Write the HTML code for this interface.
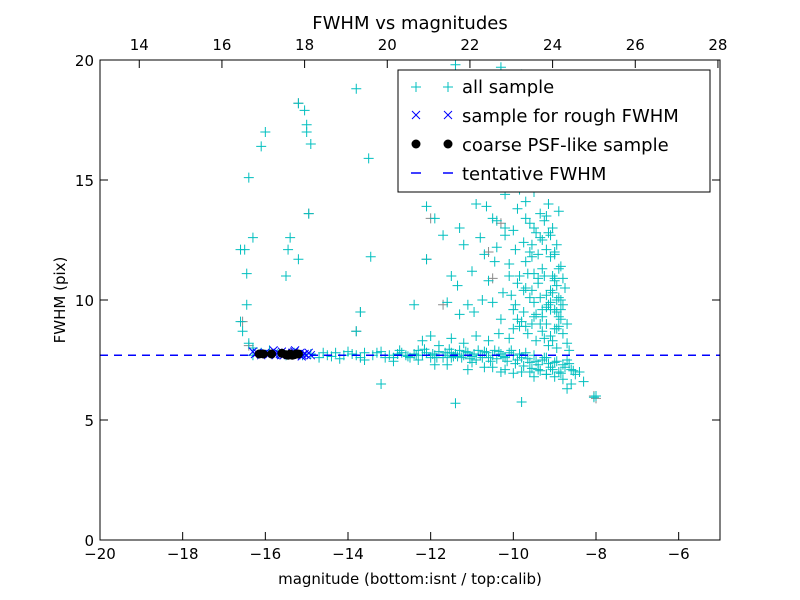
<!DOCTYPE html>
<html><head><meta charset="utf-8"><style>
body{margin:0;background:#fff;}
svg{display:block;font-family:"DejaVu Sans","Liberation Sans",sans-serif;}
</style></head><body>
<svg id="chart" width="800" height="600">
<rect width="800" height="600" fill="#fff"/>
<g id="marks"></g>
<rect x="100" y="60" width="620" height="480" fill="none" stroke="#000" stroke-width="1"/>
<g id="axes"></g>
<text x="410" y="29" font-size="18" text-anchor="middle">FWHM vs magnitudes</text>
<text x="410" y="584" font-size="15" text-anchor="middle">magnitude (bottom:isnt / top:calib)</text>
<text x="65" y="300" font-size="15" text-anchor="middle" transform="rotate(-90 65 300)">FWHM (pix)</text>
<g>
<rect x="398" y="70" width="312" height="122" fill="#fff" stroke="#000"/>
<g>
<path d="M411 87h10M416 82v10M443 87h10M448 82v10" stroke="#00bfbf"/>
<text x="462" y="93" font-size="18">all sample</text></g>
<g>
<path d="M412 111l8 8M412 119l8-8M444 111l8 8M444 119l8-8" stroke="#0000ff"/>
<text x="462" y="122" font-size="18">sample for rough FWHM</text></g>
<g>
<circle cx="416" cy="144" r="4.5"/><circle cx="448" cy="144" r="4.5"/>
<text x="462" y="151" font-size="18">coarse PSF-like sample</text></g>
<g>
<path d="M411 173h10M443 173h10" stroke="#0000ff" stroke-width="1.5"/>
<text x="462" y="180" font-size="18">tentative FWHM</text></g>
</g>
</svg>
<script>
const magAll=[-16.3,-16.1,-15.9,-15.7,-15.5,-15.3,-15.1,-14.9,-14.7,-14.5,-14.3,-14.1,-13.9,-13.7,-13.6,-13.4,-13.2,-13.0,-12.9,-12.8,-12.7,-12.6,-12.5,-12.4,-12.3,-12.2,-12.1,-12.0,-11.95,-11.9,-11.8,-11.7,-11.6,-11.5,-11.45,-11.4,-11.3,-11.25,-11.2,-11.1,-11.0,-10.95,-10.9,-10.8,-10.7,-10.6,-10.5,-10.45,-10.4,-10.3,-10.2,-10.1,-10.0,-9.9,-9.8,-9.7,-9.6,-9.5,-9.4,-9.3,-9.2,-9.1,-9.0,-8.9,-8.8,-8.7,-8.6,-8.5,-8.4,-8.3,-8.6,-8.7,-9.2,-9.5,-9.8,-10.2,-10.5,-11.0,-11.6,-12.3,-12.9,-13.6,-14.2,
-14.6,-14.4,-14.0,-13.8,-13.3,-13.1,-12.75,-12.55,-12.35,-12.15,-11.85,-11.65,-11.55,-11.35,-11.15,-11.05,-10.85,-10.75,-10.65,-10.55,-10.35,-10.25,-10.15,-10.05,-9.95,-9.85,-9.75,-9.65,-9.55,-9.45,-9.35,-9.25,-9.15,-9.05,-8.95,-8.85,-8.75,-8.65,-8.55,-9.6,-9.4,-9.2,-9.0,-8.8,-10.0,-10.3,-10.7,-11.1,-11.5,-11.9,
-11.3,-11.2,-11.0,-10.9,-10.8,-10.7,-10.6,-10.5,-10.4,-10.3,-10.2,-10.1,-10.05,-10.0,-9.95,-9.9,-9.85,-9.8,-9.75,-9.7,-9.65,-9.6,-9.55,-9.5,-9.5,-9.45,-9.4,-9.4,-9.35,-9.3,-9.3,-9.25,-9.2,-9.2,-9.15,-9.1,-9.1,-9.05,-9.0,-9.0,-8.95,-8.9,-8.9,-8.85,-8.8,-8.8,-8.75,-8.7,-8.7,-8.65,-10.4,-10.2,-10.0,-9.8,-10.3,-9.6,-9.3,-9.9,-10.6,-11.0,-11.4,-10.8,-10.5,-9.7,-9.0,-9.1,-8.9,-9.55,-9.35,-9.65,-9.85,-10.1,-10.35,-10.6,-10.9,-11.2,-11.5,-9.25,-9.15,-8.95,-9.45,-9.75,-10.0,-10.25,-10.5,-10.75,-10.95,-9.6,-9.4,-9.2,-9.05,-8.95,-9.3,-9.5,-9.7,-9.85,-10.05,-10.2,-10.45,-10.65,-11.1,-11.35,-12.2,-12.0,-11.8,-9.0,-8.85,-9.1,-9.2,-9.35,-9.55,-9.0,-9.1,-9.25,
-9.15,-9.05,-8.95,-8.9,-8.85,-9.1,-9.0,-8.95,-9.2,-9.3,-9.45,-9.5,-9.6,-9.7,-9.8,-9.9,-8.9,-8.8,-9.0,-9.15,-9.25,-9.35,-9.4,-9.55,-9.65,-9.75,-9.95,-10.1,-10.2,-10.4,-9.05,-8.95,-8.85,-9.1,-9.3,-9.5,-9.7,-9.9,-10.0,-9.2,
-16.6,-16.5,-16.4,-16.3,-16.1,-16.0,-16.45,-16.45,-16.6,-16.55,-16.4,-16.3,-15.5,-15.45,-15.4,-15.2,-15.2,-15.05,-15.0,-15.0,-14.9,-14.95,-13.8,-13.5,-13.45,-13.8,-13.7,-13.2,-12.1,-11.9,-12.1,-12.4,-11.6,-11.3,-11.4,-9.8,-8.0,-8.05,-11.7,-11.5];
const fwhmAll=[7.7,7.8,7.9,7.75,7.7,7.8,7.7,7.75,7.6,7.7,7.8,7.7,7.75,7.6,7.8,7.7,7.85,7.7,7.6,7.75,7.8,7.7,7.6,7.75,7.9,7.7,7.8,7.6,7.75,7.7,7.85,7.6,7.7,7.8,7.65,7.75,7.9,7.6,7.7,7.8,7.65,7.75,7.5,7.7,7.85,7.6,7.7,7.9,7.55,7.75,7.6,7.8,7.7,7.5,7.6,7.8,7.4,7.7,7.3,7.5,7.6,7.2,7.4,7.0,7.3,7.5,7.1,6.9,7.0,6.6,6.5,6.3,6.9,6.8,7.0,7.1,7.2,7.4,7.3,7.5,7.45,7.5,7.55,
7.8,7.65,7.85,7.7,7.8,7.6,7.9,7.65,7.7,7.95,7.6,7.8,7.95,7.65,7.85,7.55,7.9,7.6,7.8,7.45,7.85,7.65,7.45,7.9,7.35,7.75,7.25,7.55,7.15,7.45,7.05,7.6,7.35,7.1,7.45,6.95,7.2,7.35,7.05,7.0,7.1,6.9,6.8,6.7,6.95,7.0,7.2,7.1,7.6,7.3,
13.0,12.3,11.2,14.0,12.6,11.9,10.8,13.4,12.2,9.2,14.4,11.5,10.2,12.9,9.8,13.8,11.0,16.1,12.4,10.5,15.0,13.2,11.8,9.9,14.5,12.8,10.7,16.5,13.6,11.3,9.3,15.6,12.1,10.2,14.0,11.8,9.6,13.0,10.9,8.8,12.3,10.1,9.3,11.4,9.8,8.6,10.5,9.0,8.2,7.9,16.0,17.2,18.5,19.4,19.7,17.8,18.9,17.0,18.0,19.0,19.8,16.7,15.2,14.1,15.3,16.9,13.7,10.4,9.0,8.6,8.9,8.4,8.6,8.3,8.5,8.2,8.4,8.4,8.1,8.0,8.3,9.5,9.6,10.3,9.9,10.0,9.5,12.0,11.9,13.5,11.0,10.6,12.5,13.0,13.4,14.6,15.3,13.0,11.6,13.9,9.8,10.6,8.3,8.5,8.1,9.6,10.0,10.4,9.0,10.1,9.0,12.0,12.7,11.0,
9.8,10.3,9.5,8.9,9.2,8.5,10.8,10.0,9.7,8.7,9.4,11.1,10.1,11.6,9.1,10.7,11.3,10.9,11.9,12.8,13.3,12.6,10.9,12.3,11.1,10.4,12.1,11.0,12.7,13.3,8.3,8.8,9.6,9.9,9.6,9.3,8.9,9.2,8.8,14.7,
12.1,12.1,15.1,12.6,16.4,17.0,11.1,9.8,9.1,8.7,8.2,8.0,11.0,12.1,12.6,11.7,18.2,17.9,17.3,17.0,16.5,13.6,18.8,15.9,11.8,8.7,9.5,6.5,13.9,13.4,11.7,9.8,9.9,9.4,5.7,5.75,6.0,5.95,12.7,11.0];
const magGray=[-16.55,-16.4,-15.2,-14.95,-13.8,-13.7,-12.0,-10.6,-10.3,-8.05,-8.0,-12.1,-10.5,-11.7];
const fwhmGray=[9.1,8.1,18.2,13.6,8.7,9.5,13.4,12.0,13.2,6.0,5.9,11.7,10.9,9.8];
const magRough=[-16.3,-16.25,-16.2,-16.1,-16.0,-15.9,-15.8,-15.75,-15.7,-15.65,-15.6,-15.55,-15.5,-15.45,-15.4,-15.35,-15.3,-15.25,-15.2,-15.15,-15.1,-15.05,-15.0,-14.95,-14.9,-15.12,-15.28,-15.62];
const fwhmRough=[7.85,7.75,7.8,7.7,7.8,7.75,7.9,7.7,7.8,7.75,7.85,7.7,7.8,7.75,7.7,7.8,7.85,7.7,7.75,7.8,7.7,7.75,7.7,7.8,7.7,7.65,7.9,7.7];
const magPsf=[-16.15,-16.05,-15.85,-15.6,-15.5,-15.45,-15.4,-15.35,-15.3,-15.25,-15.2];
const fwhmPsf=[7.75,7.75,7.75,7.78,7.72,7.7,7.75,7.7,7.72,7.75,7.75];
const tentative=[7.7];
const xTicksBottom=[-20,-18,-16,-14,-12,-10,-8,-6];
const xTicksTop=[14,16,18,20,22,24,26,28];
const yTicks=[0,5,10,15,20];
const NS='http://www.w3.org/2000/svg';
const X=v=>100+(v+20)*620/15;
const XT=v=>X(v-33.05);
const Y=v=>540-v*24;
const marks=document.getElementById('marks');
const axes=document.getElementById('axes');
function mk(tag,attrs,parent){const e=document.createElementNS(NS,tag);for(const k in attrs)e.setAttribute(k,attrs[k]);parent.appendChild(e);return e;}
function plus(x,y,c,name){
  const p=mk('path',{d:`M${x-5} ${y}h10M${x} ${y-5}v10`,stroke:c,'stroke-width':1},marks);
  
  
}
magGray.forEach((m,i)=>plus(X(m),Y(fwhmGray[i]),'#8a8a8a','all-sample-point'));
magAll.forEach((m,i)=>plus(X(m),Y(fwhmAll[i]),'#00bfbf','all-sample-point'));
const dl=mk('line',{x1:100,x2:720,y1:Y(tentative[0]),y2:Y(tentative[0]),stroke:'#0000ff','stroke-width':1.5,'stroke-dasharray':'8 6'},marks);


magRough.forEach((m,i)=>{const x=X(m),y=Y(fwhmRough[i]);
  const p=mk('path',{d:`M${x-4} ${y-4}l8 8M${x-4} ${y+4}l8-8`,stroke:'#0000ff','stroke-width':1},marks);
  
  });
magPsf.forEach((m,i)=>{
  const c=mk('circle',{cx:X(m),cy:Y(fwhmPsf[i]),r:4.5,fill:'#000'},marks);
  
  });
xTicksBottom.forEach(v=>{const x=X(v);
  mk('path',{d:`M${x} 540v-8`,stroke:'#000'},axes);
  const t=mk('text',{x:x,y:559,'font-size':15,'text-anchor':'middle'},axes);t.textContent=v<0?'\u2212'+(-v):v;
  
  });
xTicksTop.forEach(v=>{const x=XT(v);
  mk('path',{d:`M${x} 60v8`,stroke:'#000'},axes);
  const t=mk('text',{x:x,y:50,'font-size':15,'text-anchor':'middle'},axes);t.textContent=v;
  
  });
yTicks.forEach(v=>{const y=Y(v);
  mk('path',{d:`M100 ${y}h8M720 ${y}h-8`,stroke:'#000'},axes);
  const t=mk('text',{x:94,y:y+6,'font-size':15,'text-anchor':'end'},axes);t.textContent=v;
  
  });
</script>
</body></html>
